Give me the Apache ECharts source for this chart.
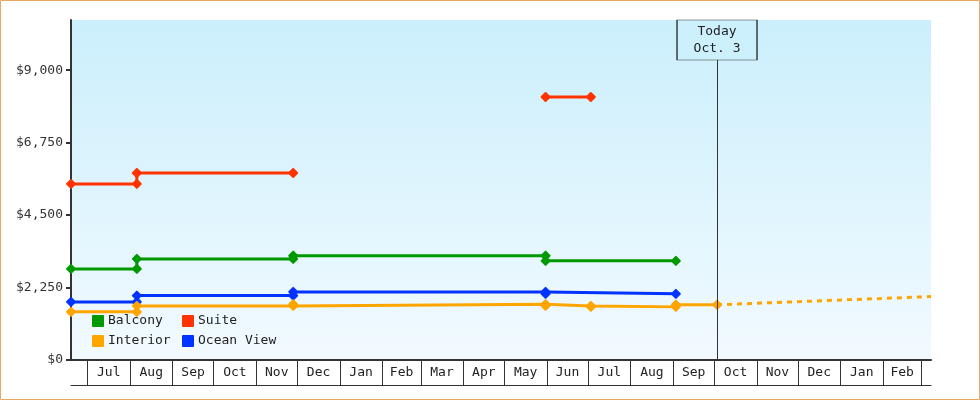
<!DOCTYPE html>
<html>
<head>
<meta charset="utf-8">
<script src="https://cdn.jsdelivr.net/npm/echarts@6/dist/echarts.min.js"></script>
<style>
  html, body { margin: 0; padding: 0; background: #fff; }
  #chart { width: 980px; height: 400px; }
</style>
</head>
<body>
<div id="chart"></div>
<script>
// Cabin fare history per cabin class: [date, price in USD]
const balcony = [
  ['2021-06-19', 2830], ['2021-08-06', 2830],
  ['2021-08-06', 3140], ['2021-11-28', 3140],
  ['2021-11-28', 3240], ['2022-05-31', 3240],
  ['2022-05-31', 3080], ['2022-09-03', 3080]
];
const suite = [
  ['2021-06-19', 5470], ['2021-08-06', 5470],
  ['2021-08-06', 5810], ['2021-11-28', 5810],
  ['2022-03-01', '-'],
  ['2022-05-31', 8170], ['2022-07-03', 8170]
];
const interior = [
  ['2021-06-19', 1495], ['2021-08-06', 1495],
  ['2021-08-06', 1680], ['2021-11-28', 1680],
  ['2021-11-28', 1730], ['2022-05-31', 1730],
  ['2022-05-31', 1680], ['2022-07-03', 1680],
  ['2022-07-03', 1650], ['2022-09-03', 1650],
  ['2022-09-03', 1715], ['2022-10-03', 1715]
];
const oceanView = [
  ['2021-06-19', 1805], ['2021-08-06', 1805],
  ['2021-08-06', 2000], ['2021-11-28', 2000],
  ['2021-11-28', 2115], ['2022-05-31', 2115],
  ['2022-05-31', 2055], ['2022-09-03', 2055]
];
// Projected interior fare after today
const interiorProjection = [
  ['2022-10-03', 1715], ['2023-03-08', 1970]
];

const yTicks = [0, 2250, 4500, 6750, 9000];
const monthNames = ['Jan', 'Feb', 'Mar', 'Apr', 'May', 'Jun', 'Jul', 'Aug', 'Sep', 'Oct', 'Nov', 'Dec'];
const TODAY = '2022-10-03';
const TODAY_LABEL = 'Today\nOct. 3';
const X_MIN = '2021-06-19';
const X_MAX = '2023-03-08';
const Y_MAX = 10560;

const FONT = '"DejaVu Sans Mono", monospace';
const INK = '#333';
const COLORS = { Balcony: '#009900', Suite: '#ff3300', Interior: '#ffa500', 'Ocean View': '#0033ff' };

function ts(s) {
  const [y, m, d] = s.split('-').map(Number);
  return new Date(y, m - 1, d).getTime();
}
const pts = arr => arr.map(([d, v]) => [ts(d), v]);

// Month boundaries (ticks) and month centres (labels) inside the axis range
const monthStarts = [];
const monthMids = [];
(function () {
  const lo = ts(X_MIN), hi = ts(X_MAX);
  let d = new Date(new Date(lo).getFullYear(), new Date(lo).getMonth(), 1);
  while (d.getTime() <= hi) {
    const next = new Date(d.getFullYear(), d.getMonth() + 1, 1);
    if (d.getTime() >= lo) monthStarts.push(d.getTime());
    const mid = (d.getTime() + next.getTime()) / 2;
    if (mid >= lo && next.getTime() <= hi) monthMids.push(mid);
    d = next;
  }
})();

function fareSeries(name, data) {
  const color = COLORS[name];
  return {
    name, type: 'line', data: pts(data),
    symbol: 'diamond', symbolSize: 8, showAllSymbol: true,
    connectNulls: false,
    lineStyle: { width: 3, color },
    itemStyle: { color, borderColor: color, borderWidth: 2, borderJoin: 'round' },
    emphasis: { disabled: true },
    animation: false
  };
}

const legendCommon = {
  orient: 'vertical', icon: 'rect', itemWidth: 10, itemHeight: 10,
  itemGap: 6, padding: 0, top: 314,
  textStyle: { fontFamily: FONT, fontSize: 13, color: '#222', lineHeight: 14 }
};

const chart = echarts.init(document.getElementById('chart'), null, { renderer: 'canvas' });
chart.setOption({
  animation: false,
  color: [COLORS.Balcony, COLORS.Suite, COLORS.Interior, COLORS['Ocean View']],
  grid: {
    left: 71, right: 49, top: 20, bottom: 40,
    show: true, borderWidth: 0,
    backgroundColor: new echarts.graphic.LinearGradient(0, 0, 0, 1, [
      { offset: 0, color: '#cbeffc' },
      { offset: 1, color: '#f2faff' }
    ])
  },
  legend: [
    Object.assign({ left: 92, data: ['Balcony', 'Interior'] }, legendCommon),
    Object.assign({ left: 182, data: ['Suite', 'Ocean View'] }, legendCommon)
  ],
  xAxis: [{
    // timestamps on a linear scale; month ticks and labels are placed explicitly
    type: 'value', min: ts(X_MIN), max: ts(X_MAX),
    axisLine: { show: true, lineStyle: { color: INK, width: 2 } },
    axisTick: { show: true, customValues: monthStarts, length: 25, lineStyle: { color: INK, width: 1 } },
    axisLabel: {
      customValues: monthMids, hideOverlap: false, margin: 6,
      fontFamily: FONT, fontSize: 13, color: '#222',
      formatter: v => monthNames[new Date(v).getMonth()]
    },
    splitLine: { show: false }
  }, {
    type: 'value', min: 0, max: 1, position: 'bottom', offset: 25,
    axisLine: { show: true, lineStyle: { color: INK, width: 1 } },
    axisTick: { show: false }, axisLabel: { show: false }, splitLine: { show: false }
  }],
  yAxis: {
    type: 'value', min: 0, max: Y_MAX,
    axisLine: { show: true, lineStyle: { color: INK, width: 2 } },
    axisTick: { show: true, customValues: yTicks, length: 5, lineStyle: { color: INK, width: 2 } },
    axisLabel: {
      customValues: yTicks, margin: 8,
      fontFamily: FONT, fontSize: 13, color: '#333',
      formatter: v => '$' + v.toLocaleString('en-US')
    },
    splitLine: { show: false }
  },
  series: [
    fareSeries('Balcony', balcony),
    fareSeries('Suite', suite),
    fareSeries('Ocean View', oceanView),
    fareSeries('Interior', interior),
    {
      name: 'Interior projection', type: 'line', data: pts(interiorProjection),
      showSymbol: false,
      lineStyle: { width: 3, color: COLORS.Interior, type: [5, 5], cap: 'butt' },
      itemStyle: { color: COLORS.Interior },
      emphasis: { disabled: true },
      z: 1,
      markLine: {
        silent: true, symbol: 'none', animation: false,
        label: { show: false },
        lineStyle: { color: INK, width: 1, type: 'solid' },
        data: [{ xAxis: ts(TODAY) }]
      },
      markPoint: {
        silent: true, animation: false,
        symbol: 'rect', symbolSize: [80, 40], symbolOffset: [0, 20],
        itemStyle: { color: '#cdf0fd', borderColor: INK, borderWidth: 1 },
        label: {
          show: true, position: 'inside', formatter: TODAY_LABEL,
          fontFamily: FONT, fontSize: 13, color: '#222', lineHeight: 17
        },
        data: [{ coord: [ts(TODAY), Y_MAX] }]
      }
    }
  ],
  graphic: [{
    type: 'rect', silent: true, z: 100,
    shape: { x: 0.5, y: 0.5, width: 979, height: 399 },
    style: { fill: 'none', stroke: '#e8a860', lineWidth: 1 }
  }]
});
</script>
</body>
</html>
